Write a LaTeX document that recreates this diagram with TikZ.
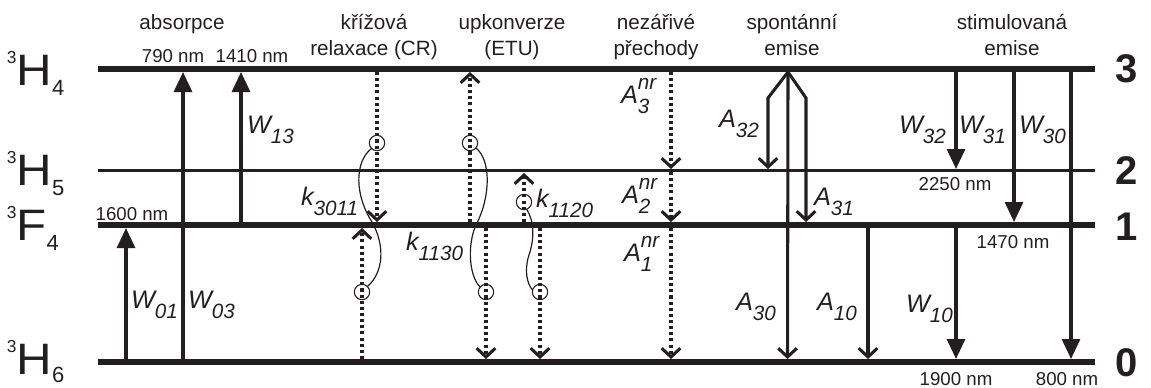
\documentclass[tikz,border=0pt]{standalone}
\usepackage{graphicx}
\usepackage{fontspec}
\setmainfont{Liberation Sans}
\usetikzlibrary{arrows.meta}
\definecolor{ink}{RGB}{35,31,32}
\newcommand\rlbl[3]{{\fontsize{19}{19}\selectfont\itshape #1\makebox[0pt][l]{\raisebox{10pt}{\fontsize{15.5}{15.5}\selectfont #2}}\raisebox{-7.5pt}{\fontsize{15.5}{15.5}\selectfont #3}}}
\newcommand\tlbl[4][7.5pt]{{\raisebox{16pt}{\fontsize{13}{13}\selectfont #2}\scalebox{1.12}[1]{\fontsize{33}{33}\selectfont #3}\raisebox{-#1}{\fontsize{16.5}{16.5}\selectfont #4}}}
\begin{document}
\begin{tikzpicture}[x=0.75pt,y=-0.75pt,
  every node/.style={inner sep=0pt,outer sep=0pt,text=ink},
  lvlthick/.style={draw=ink,line width=4.2pt},
  lvlthin/.style={draw=ink,line width=1.6pt},
  radarr/.style={draw=ink,line width=2.3pt,-{Triangle[length=15pt,width=13.5pt]}},
  sparr/.style={draw=ink,line width=2.3pt,line join=miter,-{Straight Barb[length=6.5pt,width=14pt]}},
  dotarr/.style={draw=ink,line width=2.3pt,dash pattern=on 2.3pt off 2.3pt,-{Straight Barb[length=6.5pt,width=14pt]}},
  ionc/.style={circle,draw=ink,line width=0.8pt,minimum size=11.5pt},
  wave/.style={draw=ink,line width=0.9pt},
  ttl/.style={font=\fontsize{15.5}{15.5}\selectfont,anchor=base},
  nmlbl/.style={font=\fontsize{14}{14}\selectfont,anchor=base},
  lvlnum/.style={font=\fontsize{30}{30}\selectfont\bfseries,anchor=base},
  rate/.style={anchor=base west},
  term/.style={anchor=base west}]
\useasboundingbox (0,0) rectangle (1151,387);

% ---------- levels ----------
\coordinate (L3w) at (98,69);    \coordinate (L3e) at (1095,69);
\coordinate (L2w) at (98,170.5); \coordinate (L2e) at (1095,170.5);
\coordinate (L1w) at (98,225);   \coordinate (L1e) at (1095,225);
\coordinate (L0w) at (98,362);   \coordinate (L0e) at (1095,362);
\draw[lvlthick] (L3w) -- (L3e);
\draw[lvlthin]  (L2w) -- (L2e);
\draw[lvlthick] (L1w) -- (L1e);
\draw[lvlthick] (L0w) -- (L0e);

% ---------- term labels ----------
\node[term] (tH4) at (7,85)  {\tlbl{3}{H}{4}};
\node[term] (tH5) at (7,185) {\tlbl{3}{H}{5}};
\node[term] (tF4) at (7,240) {\tlbl{3}{F}{4}};
\node[term] (tH6) at (7,374) {\tlbl[6pt]{3}{H}{6}};

\node[lvlnum] (n3) at (1127,82)  {3};
\node[lvlnum] (n2) at (1127,184) {2};
\node[lvlnum] (n1) at (1127,240) {1};
\node[lvlnum] (n0) at (1127,376) {0};

% ---------- titles ----------
\node[ttl] (tabs) at (182,29) {absorpce};
\node[ttl] (tcr1) at (374,29) {křížová};
\node[ttl] (tcr2) at (374,55) {relaxace (CR)};
\node[ttl] (tup1) at (512,29) {upkonverze};
\node[ttl] (tup2) at (512,55) {(ETU)};
\node[ttl] (tnr1) at (656,29) {nezářivé};
\node[ttl] (tnr2) at (656,55) {přechody};
\node[ttl] (tsp1) at (792,29) {spontánní};
\node[ttl] (tsp2) at (792,55) {emise};
\node[ttl] (tst1) at (1012,29) {stimulovaná};
\node[ttl] (tst2) at (1012,55) {emise};

% ---------- wavelengths ----------
\node[nmlbl] (w790)  at (173,62)  {790 nm};
\node[nmlbl] (w1410) at (252,62)  {1410 nm};
\node[nmlbl] (w1600) at (132,220) {1600 nm};
\node[nmlbl] (w2250) at (955,190) {2250 nm};
\node[nmlbl] (w1470) at (1013,248){1470 nm};
\node[nmlbl] (w1900) at (956,385) {1900 nm};
\node[nmlbl] (w800)  at (1067,385){800 nm};

% ---------- absorption ----------
\coordinate (a01s) at (126,362); \coordinate (a01e) at (126,228);
\coordinate (a03s) at (183,362); \coordinate (a03e) at (183,72);
\coordinate (a13s) at (241,225); \coordinate (a13e) at (241,72);
\draw[radarr] (a01s) -- (a01e);
\draw[radarr] (a03s) -- (a03e);
\draw[radarr] (a13s) -- (a13e);
\node[rate] (lW01) at (131,308) {\rlbl{W}{}{01}};
\node[rate] (lW03) at (188,308) {\rlbl{W}{}{03}};
\node[rate] (lW13) at (247,133) {\rlbl{W}{}{13}};

% ---------- cross relaxation ----------
\coordinate (cr1s) at (377,72);  \coordinate (cr1e) at (377,222);
\coordinate (cr2s) at (362,359); \coordinate (cr2e) at (362,228);
\draw[dotarr] (cr1s) -- (cr1e);
\draw[dotarr] (cr2s) -- (cr2e);
\node[ionc] (c1) at (377,143) {};
\node[ionc] (c2) at (362,292) {};
\draw[wave] (c1.225) .. controls (354,162) and (355,196) .. (372,222)
                     .. controls (385,245) and (384,272) .. (c2.45);
\node[rate] (k3011) at (301,205) {\rlbl{k}{}{3011}};

% ---------- upconversion ----------
\coordinate (u1s) at (470,222); \coordinate (u1e) at (470,72);
\coordinate (u2s) at (486,228); \coordinate (u2e) at (486,359);
\draw[dotarr] (u1s) -- (u1e);
\draw[dotarr] (u2s) -- (u2e);
\node[ionc] (c3) at (470,143) {};
\node[ionc] (c4) at (486,292) {};
\draw[wave] (c3.-40) .. controls (491,160) and (491,196) .. (476,225)
                     .. controls (467,245) and (469,276) .. (c4.140);
\node[rate] (k1130) at (406,250) {\rlbl{k}{}{1130}};

\coordinate (v1s) at (524,222); \coordinate (v1e) at (524,173);
\coordinate (v2s) at (540,228); \coordinate (v2e) at (540,359);
\draw[dotarr] (v1s) -- (v1e);
\draw[dotarr] (v2s) -- (v2e);
\node[ionc] (c5) at (524,202) {};
\node[ionc] (c6) at (540,292) {};
\draw[wave] (c5.-70) .. controls (535,222) and (534,240) .. (529,255)
                     .. controls (524,270) and (527,284) .. (c6.165);
\node[rate] (k1120) at (536,207) {\rlbl{k}{}{1120}};

% ---------- non-radiative ----------
\coordinate (nr3s) at (671,72);  \coordinate (nr3e) at (671,169);
\coordinate (nr2s) at (671,172); \coordinate (nr2e) at (671,222);
\coordinate (nr1s) at (671,228); \coordinate (nr1e) at (671,359);
\draw[dotarr] (nr3s) -- (nr3e);
\draw[dotarr] (nr2s) -- (nr2e);
\draw[dotarr] (nr1s) -- (nr1e);
\node[rate] (lA3) at (621,103) {\rlbl{A}{nr}{3}};
\node[rate] (lA2) at (622,203) {\rlbl{A}{nr}{2}};
\node[rate] (lA1) at (624,261) {\rlbl{A}{nr}{1}};

% ---------- spontaneous emission ----------
\coordinate (sp) at (788,72);
\coordinate (s32k) at (768,98);  \coordinate (s32e) at (768,169);
\coordinate (s31k) at (806,98);  \coordinate (s31e) at (806,222);
\coordinate (s30e) at (787.5,359);
\coordinate (s10s) at (868,228); \coordinate (s10e) at (868,359);
\draw[sparr] (sp) -- (s30e);
\draw[sparr] (sp) -- (s32k) -- (s32e);
\draw[sparr] (sp) -- (s31k) -- (s31e);
\draw[sparr] (s10s) -- (s10e);
\node[rate] (lA32) at (719,127) {\rlbl{A}{}{32}};
\node[rate] (lA31) at (814,205) {\rlbl{A}{}{31}};
\node[rate] (lA30) at (736,310) {\rlbl{A}{}{30}};
\node[rate] (lA10) at (817,310) {\rlbl{A}{}{10}};

% ---------- stimulated emission ----------
\coordinate (st32s) at (956,72);   \coordinate (st32e) at (956,169);
\coordinate (st31s) at (1014,72);  \coordinate (st31e) at (1014,222);
\coordinate (st30s) at (1071,72);  \coordinate (st30e) at (1071,359);
\coordinate (st10s) at (956,228);  \coordinate (st10e) at (956,359);
\draw[radarr] (st32s) -- (st32e);
\draw[radarr] (st31s) -- (st31e);
\draw[radarr] (st30s) -- (st30e);
\draw[radarr] (st10s) -- (st10e);
\node[rate] (lW32) at (899,133) {\rlbl{W}{}{32}};
\node[rate] (lW31) at (959,133) {\rlbl{W}{}{31}};
\node[rate] (lW30) at (1019,133) {\rlbl{W}{}{30}};
\node[rate] (lW10) at (906,312) {\rlbl{W}{}{10}};
\end{tikzpicture}
\end{document}
